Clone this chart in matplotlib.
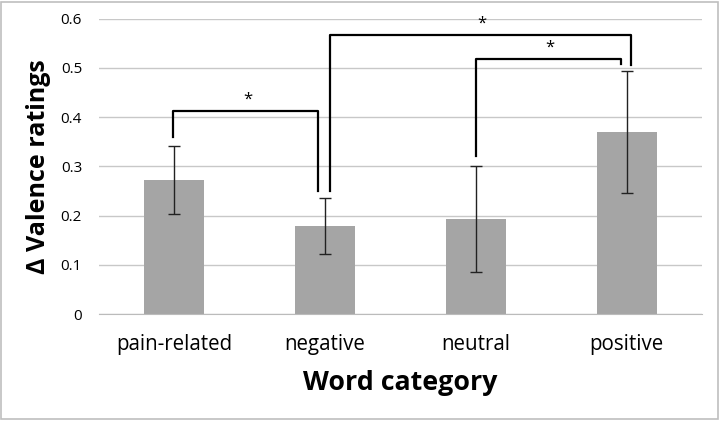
import matplotlib.pyplot as plt
from matplotlib.patches import Rectangle

plt.rcParams['font.family'] = ['Open Sans', 'DejaVu Sans']

# data
categories = ['pain-related', 'negative', 'neutral', 'positive']
means = [0.272, 0.178, 0.193, 0.370]
errors = [0.069, 0.057, 0.107, 0.124]

# significance brackets: (left x, left bottom, top, right x, right bottom, star x)
brackets = [
    (-0.01, 0.36, 0.413, 0.955, 0.25, 0.485),
    (1.035, 0.25, 0.567, 3.03, 0.505, 2.04),
    (2.0, 0.32, 0.518, 2.96, 0.507, 2.49),
]

fig = plt.figure(figsize=(7.21, 4.21), dpi=100)
ax = fig.add_axes([0.137, 0.254, 0.837, 0.702])

x = range(len(categories))
ax.bar(x, means, width=0.395, color='#A5A5A5', zorder=2)
ax.errorbar(x, means, yerr=errors, fmt='none', ecolor='#222222',
            elinewidth=1, capsize=4, capthick=1, zorder=3)

for lx, lb, top, rx, rb, sx in brackets:
    ax.plot([lx, lx, rx, rx], [lb, top, top, rb], color='black',
            lw=1.6, zorder=4, solid_joinstyle='round')
    ax.text(sx, top + 0.006, '*', ha='center', va='bottom', fontsize=12)

ax.set_xlim(-0.5, 3.5)
ax.set_ylim(0, 0.6)
ax.set_yticks([0, 0.1, 0.2, 0.3, 0.4, 0.5, 0.6])
ax.set_yticklabels(['0', '0.1', '0.2', '0.3', '0.4', '0.5', '0.6'], fontsize=11)
ax.set_xticks(list(x))
ax.set_xticklabels(categories, fontsize=14.8)
ax.tick_params(axis='both', length=0)
ax.tick_params(axis='x', pad=14)
ax.tick_params(axis='y', pad=12)
ax.grid(axis='y', color='#C8C8C8', lw=1, zorder=0)

for side in ['left', 'right', 'top']:
    ax.spines[side].set_visible(False)
ax.spines['bottom'].set_color('#BBBBBB')

ax.set_xlabel('Word category', fontsize=19.3, fontweight='bold', labelpad=11)
ax.set_ylabel('Δ Valence ratings', fontsize=18, fontweight='bold', labelpad=7)

fig.patches.append(Rectangle((0.002, 0.004), 0.994, 0.992, transform=fig.transFigure,
                             fill=False, edgecolor='#BFBFBF', lw=1.2))

fig.savefig('out.png', dpi=100)
